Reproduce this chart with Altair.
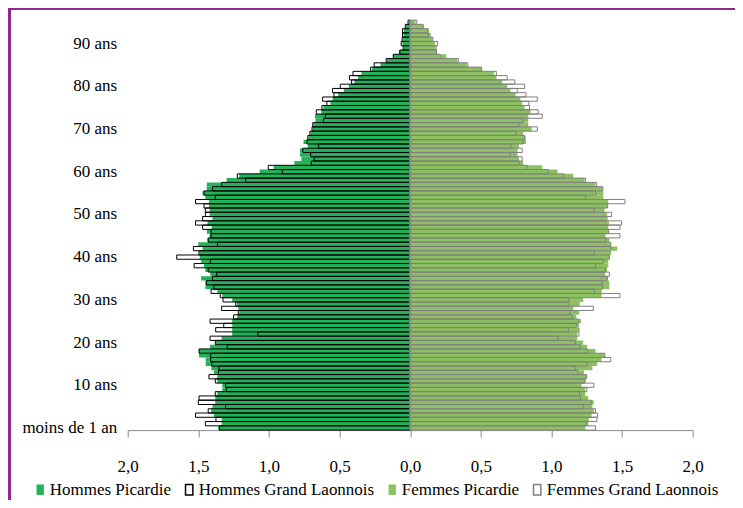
import altair as alt
import pandas as pd

ages = list(range(0, 96))

hommes_picardie = [
    1.36, 1.335, 1.335, 1.39, 1.41, 1.40, 1.38, 1.38, 1.366, 1.33,
    1.33, 1.366, 1.366, 1.39, 1.408, 1.448, 1.448, 1.495, 1.495, 1.417,
    1.377, 1.335, 1.26, 1.26, 1.26, 1.26, 1.225, 1.21, 1.217, 1.225,
    1.26, 1.33, 1.365, 1.45, 1.45, 1.48, 1.415, 1.45, 1.46, 1.48,
    1.49, 1.49, 1.47, 1.50, 1.435, 1.42, 1.44, 1.405, 1.435, 1.40,
    1.42, 1.42, 1.425, 1.425, 1.45, 1.47, 1.44, 1.44, 1.30, 1.21,
    1.066, 0.967, 0.82, 0.77, 0.78, 0.78, 0.725, 0.755, 0.72, 0.705,
    0.69, 0.685, 0.67, 0.675, 0.63, 0.615, 0.565, 0.55, 0.51, 0.47,
    0.435, 0.395, 0.37, 0.345, 0.27, 0.21, 0.165, 0.12, 0.08, 0.045,
    0.055, 0.05, 0.047, 0.045, 0.03, 0.01,
]
hommes_laonnois = [
    1.35, 1.45, 1.375, 1.52, 1.43, 1.307, 1.50, 1.495, 1.38, 1.302,
    1.307, 1.38, 1.425, 1.358, 1.354, 1.405, 1.413, 1.413, 1.495, 1.295,
    1.38, 1.417, 1.078, 1.377, 1.32, 1.417, 1.25, 1.217, 1.335, 1.235,
    1.325, 1.345, 1.41, 1.39, 1.443, 1.40, 1.37, 1.43, 1.53, 1.415,
    1.653, 1.495, 1.535, 1.365, 1.43, 1.41, 1.41, 1.47, 1.52, 1.47,
    1.45, 1.45, 1.46, 1.52, 1.38, 1.46, 1.40, 1.335, 1.165, 1.224,
    0.906, 1.005, 0.70, 0.68, 0.705, 0.76, 0.65, 0.73, 0.725, 0.71,
    0.695, 0.69, 0.615, 0.60, 0.665, 0.625, 0.59, 0.62, 0.54, 0.55,
    0.495, 0.415, 0.43, 0.405, 0.28, 0.255, 0.17, 0.12, 0.073, 0.05,
    0.064, 0.057, 0.054, 0.054, 0.035, 0.015,
]
femmes_picardie = [
    1.24, 1.26, 1.265, 1.284, 1.30, 1.29, 1.30, 1.26, 1.24, 1.24,
    1.213, 1.24, 1.253, 1.23, 1.29, 1.324, 1.355, 1.378, 1.312, 1.253,
    1.225, 1.183, 1.183, 1.20, 1.195, 1.21, 1.176, 1.197, 1.155, 1.20,
    1.225, 1.355, 1.355, 1.41, 1.41, 1.40, 1.38, 1.393, 1.402, 1.402,
    1.41, 1.423, 1.466, 1.42, 1.41, 1.383, 1.405, 1.402, 1.407, 1.39,
    1.395, 1.376, 1.40, 1.402, 1.367, 1.367, 1.36, 1.312, 1.235, 1.154,
    1.043, 0.935, 0.80, 0.77, 0.76, 0.76, 0.77, 0.82, 0.817, 0.80,
    0.86, 0.836, 0.836, 0.836, 0.852, 0.81, 0.793, 0.78, 0.746, 0.71,
    0.687, 0.651, 0.611, 0.593, 0.51, 0.40, 0.333, 0.255, 0.19, 0.18,
    0.175, 0.156, 0.146, 0.132, 0.097, 0.038,
]
femmes_laonnois = [
    1.312, 1.25, 1.322, 1.327, 1.312, 1.225, 1.282, 1.206, 1.20, 1.25,
    1.30, 1.237, 1.246, 1.187, 1.17, 1.253, 1.42, 1.378, 1.253, 1.204,
    1.17, 1.048, 1.195, 1.12, 1.176, 1.19, 1.147, 1.13, 1.296, 1.124,
    1.124, 1.485, 1.305, 1.36, 1.36, 1.395, 1.41, 1.383, 1.312, 1.367,
    1.41, 1.303, 1.42, 1.42, 1.383, 1.485, 1.405, 1.485, 1.497, 1.393,
    1.426, 1.303, 1.398, 1.52, 1.244, 1.315, 1.364, 1.32, 1.242, 1.088,
    0.977, 0.83, 0.77, 0.793, 0.708, 0.793, 0.713, 0.80, 0.81, 0.75,
    0.90, 0.77, 0.80, 0.935, 0.906, 0.845, 0.84, 0.90, 0.82, 0.758,
    0.81, 0.741, 0.687, 0.61, 0.505, 0.408, 0.34, 0.212, 0.186, 0.184,
    0.194, 0.16, 0.13, 0.125, 0.09, 0.047,
]

series_names = ["Hommes Picardie", "Hommes Grand Laonnois", "Femmes Picardie", "Femmes Grand Laonnois"]
fills = ["#23B15A", "transparent", "#8DC060", "transparent"]
strokes = ["transparent", "#000000", "transparent", "#7F7F7F"]
x_ticks = [-2.0, -1.5, -1.0, -0.5, 0.0, 0.5, 1.0, 1.5, 2.0]
y_ticks = [0, 10, 20, 30, 40, 50, 60, 70, 80, 90]

rows = []
# filled series first, outlines drawn on top
for name, vals, sign in [
    ("Hommes Picardie", hommes_picardie, -1),
    ("Femmes Picardie", femmes_picardie, 1),
    ("Hommes Grand Laonnois", hommes_laonnois, -1),
    ("Femmes Grand Laonnois", femmes_laonnois, 1),
]:
    for a, v in zip(ages, vals):
        rows.append({"age": a, "serie": name, "value": sign * v})
df = pd.DataFrame(rows)

FONT = "Liberation Serif"
PURPLE = "#93278F"
GREY = "#8A8A8A"

legend = alt.Legend(
    title=None, orient="none", legendX=-96, legendY=461, direction="horizontal",
    symbolType="M-0.7,-1L0.7,-1L0.7,1L-0.7,1Z", symbolSize=110,
    symbolStrokeWidth=1.5, labelFont=FONT, labelFontSize=17, labelColor="black",
    labelLimit=300, columnPadding=9, labelOffset=1, padding=0,
)

bars = alt.Chart(df).mark_bar(strokeWidth=1).encode(
    x=alt.X(
        "value:Q", stack=None,
        scale=alt.Scale(domain=[-2, 2], nice=False, zero=False),
        axis=alt.Axis(
            values=x_ticks, title=None, grid=False,
            labelExpr="replace(format(abs(datum.value), '.1f'), '.', ',')",
            labelFlush=False, labelOverlap=False,
            domainColor=GREY, tickColor=GREY, tickSize=7, domainWidth=1,
            labelFont=FONT, labelFontSize=17, labelColor="black", labelPadding=21,
        ),
    ),
    y=alt.Y(
        "age:O", sort=list(reversed(ages)),
        scale=alt.Scale(paddingInner=0, paddingOuter=0),
        axis=alt.Axis(
            values=y_ticks, title=None, ticks=False, domain=False, grid=False,
            labelExpr="datum.value == 0 ? 'moins de 1 an' : datum.value + ' ans'",
            labelFont=FONT, labelFontSize=17, labelColor="black", labelPadding=11,
        ),
    ),
    fill=alt.Fill("serie:N", scale=alt.Scale(domain=series_names, range=fills), legend=legend),
    stroke=alt.Stroke("serie:N", scale=alt.Scale(domain=series_names, range=strokes), legend=legend),
)

center = alt.Chart(pd.DataFrame({"v": [0]})).mark_rule(color=GREY, strokeWidth=2).encode(
    x=alt.X("v:Q")
)

one = pd.DataFrame({"k": [0]})
border_left = alt.Chart(one).mark_rule(color=PURPLE, strokeWidth=3).encode(
    x=alt.value(-118.2), y=alt.value(-13), y2=alt.value(480)
)
border_top = alt.Chart(one).mark_rule(color=PURPLE, strokeWidth=3).encode(
    x=alt.value(-119.7), x2=alt.value(608), y=alt.value(-11.5)
)

chart = alt.layer(bars, center, border_left, border_top).properties(
    width=565, height=410,
    autosize=alt.AutoSizeParams(type="none"),
    padding={"left": 119.7, "top": 12.1, "right": 42.3, "bottom": 70},
    background="white",
).configure_view(stroke="transparent")

chart.save("out.html", embed_options={"renderer": "svg", "actions": False})
